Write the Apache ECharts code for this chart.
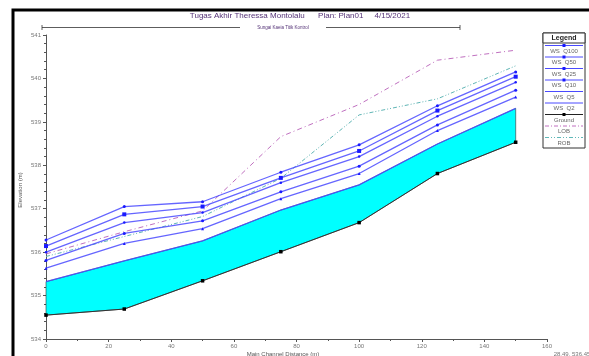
<!DOCTYPE html>
<html>
<head>
<meta charset="utf-8">
<script src="https://cdn.jsdelivr.net/npm/echarts@6/dist/echarts.min.js"></script>
<style>
html,body{margin:0;padding:0;background:#fff;}
#chart{width:589px;height:356px;}
</style>
</head>
<body>
<div id="chart"></div>
<script>
// profil muka air
var stations = [0, 25, 50, 75, 100, 125, 150];
var wsQ100 = [536.28, 537.05, 537.16, 537.84, 538.47, 539.37, 540.15];
var wsQ50  = [536.14, 536.87, 537.05, 537.71, 538.33, 539.26, 540.04];
var wsQ25  = [536.00, 536.68, 536.91, 537.60, 538.20, 539.13, 539.91];
var wsQ10  = [535.81, 536.43, 536.72, 537.39, 537.98, 538.93, 539.73];
var wsQ5   = [535.63, 536.20, 536.54, 537.23, 537.81, 538.80, 539.57];
var wsQ2   = [535.32, 535.80, 536.26, 536.97, 537.55, 538.49, 539.31];
var ground = [534.55, 534.69, 535.34, 536.01, 536.68, 537.81, 538.53];
var lob    = [535.96, 536.47, 536.95, 538.66, 539.40, 540.42, 540.65];
var rob    = [535.90, 536.36, 536.82, 537.70, 539.16, 539.53, 540.29];

var legendNames = ['WS  Q100', 'WS  Q50', 'WS  Q25', 'WS  Q10', 'WS  Q5', 'WS  Q2', 'Ground', 'LOB', 'ROB'];

function pairs(arr) {
    return stations.map(function (x, i) { return [x, arr[i]]; });
}

var myChart = echarts.init(document.getElementById('chart'));

var wsColor = '#4a4aff';
function wsLine(name, arr, symbol, size) {
    return {
        name: name,
        type: 'line',
        data: pairs(arr),
        symbol: symbol,
        symbolSize: size,
        showSymbol: symbol !== 'none',
        itemStyle: { color: '#1a1aff' },
        lineStyle: { color: wsColor, width: 1.3, opacity: 0.85 },
        z: 4
    };
}

// legenda digambar manual (garis di atas, teks di bawah)
var lgX = 543, lgY = 33, lgW = 42, rowH = 11.5;
var legendItems = [
    { type: 'rect', shape: { x: lgX, y: lgY, width: lgW, height: 115 },
      style: { fill: '#fff', stroke: '#333', lineWidth: 1 } },
    { type: 'rect', shape: { x: lgX, y: lgY, width: lgW, height: 10 },
      style: { fill: '#fff', stroke: '#333', lineWidth: 1 } },
    { type: 'text', x: lgX + lgW / 2, y: lgY + 5,
      style: { text: 'Legend', fill: '#222', font: 'bold 7px Arial', align: 'center', verticalAlign: 'middle' } }
];
var lgStyles = [
    { stroke: wsColor, dash: null, mark: 'dot' },
    { stroke: wsColor, dash: null, mark: 'sq' },
    { stroke: wsColor, dash: null, mark: 'dot' },
    { stroke: wsColor, dash: null, mark: 'dot' },
    { stroke: wsColor, dash: null, mark: null },
    { stroke: wsColor, dash: null, mark: null },
    { stroke: '#222', dash: null, mark: 'blk' },
    { stroke: '#c070c0', dash: [4, 2, 1, 2], mark: null },
    { stroke: '#60b8b8', dash: [4, 2, 1, 2, 1, 2], mark: null }
];
legendNames.forEach(function (n, i) {
    var y0 = lgY + 11 + i * rowH;
    var s = lgStyles[i];
    legendItems.push({ type: 'line', shape: { x1: lgX + 2, y1: y0 + 1.5, x2: lgX + lgW - 2, y2: y0 + 1.5 },
        style: { stroke: s.stroke, lineWidth: 1, lineDash: s.dash } });
    if (s.mark) {
        legendItems.push({ type: 'rect', shape: { x: lgX + lgW / 2 - 1.5, y: y0, width: 3, height: 3 },
            style: { fill: s.mark === 'blk' ? '#000' : '#1a1aff' } });
    }
    legendItems.push({ type: 'text', x: lgX + lgW / 2, y: y0 + 7,
        style: { text: n, fill: '#666', font: '6px Arial', align: 'center', verticalAlign: 'middle' } });
});

var option = {
    animation: false,
    backgroundColor: '#fff',
    grid: { left: 46, right: 42, top: 35, bottom: 17 },
    xAxis: {
        type: 'value',
        min: 0, max: 160, interval: 20,
        axisLine: { lineStyle: { color: '#555' } },
        axisTick: { length: 3, lineStyle: { color: '#555' } },
        minorTick: { show: true, splitNumber: 2, length: 2, lineStyle: { color: '#555' } },
        axisLabel: { color: '#777', fontSize: 6, fontFamily: 'Arial', margin: 4 },
        splitLine: { show: false }
    },
    yAxis: {
        type: 'value',
        min: 534, max: 541, interval: 1,
        axisLine: { show: true, lineStyle: { color: '#555' } },
        axisTick: { show: true, length: 3, lineStyle: { color: '#555' } },
        minorTick: { show: true, splitNumber: 5, length: 2, lineStyle: { color: '#555' } },
        axisLabel: { color: '#777', fontSize: 6, fontFamily: 'Arial', margin: 5 },
        splitLine: { show: false }
    },
    graphic: [
        // bingkai hitam
        { type: 'rect', shape: { x: 13, y: 10, width: 620, height: 400 },
          style: { fill: 'none', stroke: '#000', lineWidth: 3 }, z: 100 },
        { type: 'text', x: 300, y: 16,
          style: { text: 'Tugas Akhir Theressa Montolalu      Plan: Plan01     4/15/2021',
                   fill: '#553377', font: '8px Arial', align: 'center', verticalAlign: 'middle' } },
        { type: 'text', x: 283, y: 28,
          style: { text: 'Sungai Kaeia Titik Kontrol', fill: '#553377', font: '4.5px Arial', align: 'center', verticalAlign: 'middle' } },
        { type: 'line', shape: { x1: 42, y1: 27.5, x2: 240, y2: 27.5 }, style: { stroke: '#333', lineWidth: 0.8 } },
        { type: 'line', shape: { x1: 326, y1: 27.5, x2: 460, y2: 27.5 }, style: { stroke: '#333', lineWidth: 0.8 } },
        { type: 'line', shape: { x1: 42, y1: 25, x2: 42, y2: 30 }, style: { stroke: '#333', lineWidth: 0.8 } },
        { type: 'line', shape: { x1: 460, y1: 25, x2: 460, y2: 30 }, style: { stroke: '#333', lineWidth: 0.8 } },
        { type: 'text', x: 20, y: 190, rotation: Math.PI / 2,
          style: { text: 'Elevation (m)', fill: '#555', font: '6px Arial', align: 'center', verticalAlign: 'middle' } },
        { type: 'text', x: 283, y: 354,
          style: { text: 'Main Channel Distance (m)', fill: '#555', font: '6px Arial', align: 'center', verticalAlign: 'middle' } },
        { type: 'text', x: 572, y: 354,
          style: { text: '28.49, 536.45', fill: '#777', font: '6px Arial', align: 'center', verticalAlign: 'middle' } }
    ].concat(legendItems),
    series: [
        // air antara ground dan WS Q2 (poligon cyan lewat skala sumbu)
        {
            name: 'air', type: 'custom', silent: true, z: 1,
            data: [0],
            renderItem: function (params, api) {
                var pts = [];
                for (var i = 0; i < stations.length; i++) pts.push(api.coord([stations[i], ground[i]]));
                for (var j = stations.length - 1; j >= 0; j--) pts.push(api.coord([stations[j], wsQ2[j]]));
                return {
                    type: 'polygon',
                    shape: { points: pts },
                    style: { fill: '#00ffff', stroke: '#333', lineWidth: 0.6 }
                };
            }
        },
        wsLine('WS  Q100', wsQ100, 'circle', 3),
        wsLine('WS  Q50', wsQ50, 'rect', 4),
        wsLine('WS  Q25', wsQ25, 'circle', 2.5),
        wsLine('WS  Q10', wsQ10, 'circle', 3),
        wsLine('WS  Q5', wsQ5, 'triangle', 3),
        wsLine('WS  Q2', wsQ2, 'none', 0),
        {
            name: 'Ground', type: 'line', data: pairs(ground),
            symbol: 'rect', symbolSize: 3.5,
            itemStyle: { color: '#000' }, lineStyle: { color: '#333', width: 1 }, z: 5
        },
        {
            name: 'LOB', type: 'line', data: pairs(lob), symbol: 'none',
            lineStyle: { color: '#c070c0', width: 1, type: [5, 3, 1, 3] }, z: 3
        },
        {
            name: 'ROB', type: 'line', data: pairs(rob), symbol: 'none',
            lineStyle: { color: '#5fb5b5', width: 1, type: [4, 2, 1, 2, 1, 2] }, z: 3
        }
    ]
};

myChart.setOption(option);
</script>
</body>
</html>
